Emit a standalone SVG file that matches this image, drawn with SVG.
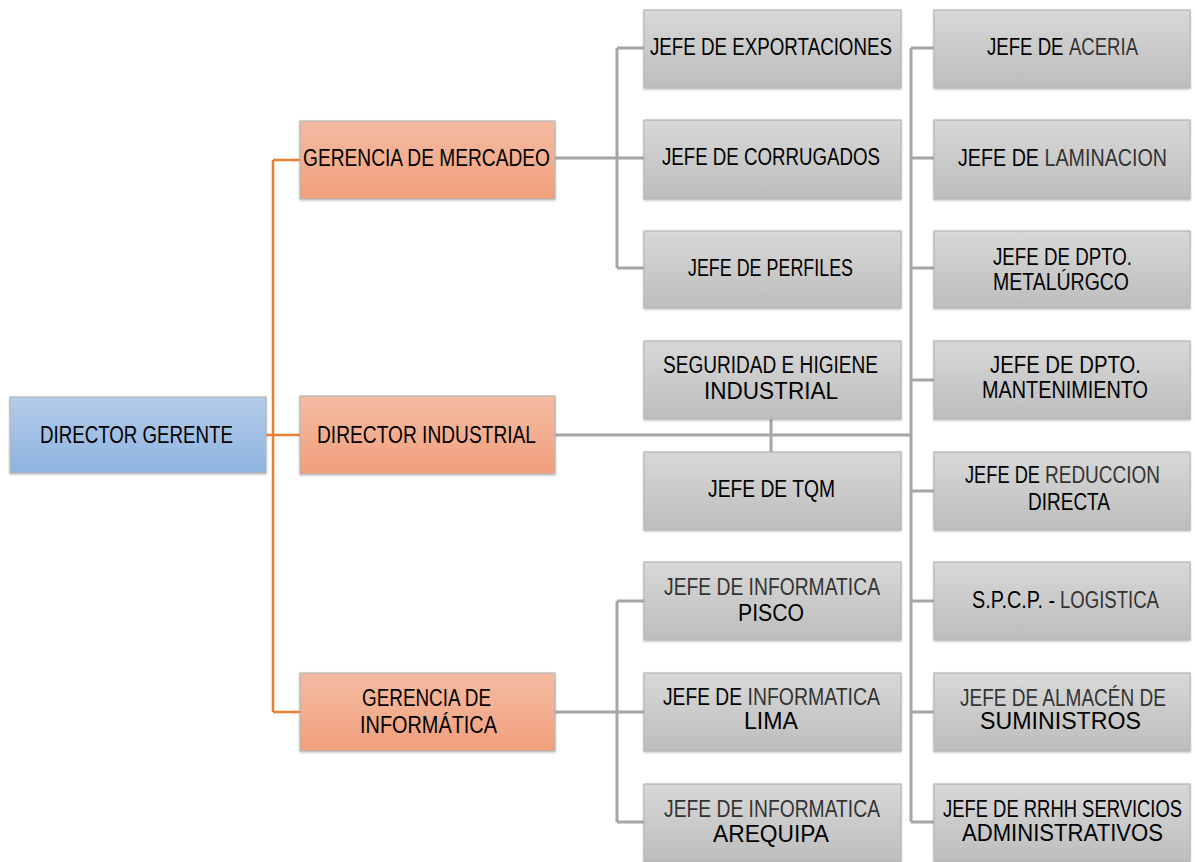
<svg xmlns="http://www.w3.org/2000/svg" width="1195" height="862" viewBox="0 0 1195 862">
<defs>
<linearGradient id="gBlue" x1="0" y1="0" x2="0" y2="1"><stop offset="0" stop-color="#b4cce9"/><stop offset="1" stop-color="#8db3e0"/></linearGradient>
<linearGradient id="gOrange" x1="0" y1="0" x2="0" y2="1"><stop offset="0" stop-color="#f4bca2"/><stop offset="1" stop-color="#f19f7c"/></linearGradient>
<linearGradient id="gGray" x1="0" y1="0" x2="0" y2="1"><stop offset="0" stop-color="#d8d8d8"/><stop offset="1" stop-color="#bdbdbd"/></linearGradient>
<filter id="sh" x="-5%" y="-10%" width="110%" height="125%"><feDropShadow dx="0" dy="1" stdDeviation="1" flood-color="#000" flood-opacity="0.25"/></filter>
</defs>
<style>
.box{stroke:#b5b5b5;stroke-width:1.2;filter:url(#sh)}
.blue{fill:url(#gBlue)}
.orange{fill:url(#gOrange)}
.gray{fill:url(#gGray)}
text{font-family:"Liberation Sans Narrow","Liberation Sans",Arial,sans-serif;font-size:23px;fill:#000}
.dim{fill:#333}
.cg{fill:none;stroke:#a6a6a6;stroke-width:3}
.co{fill:none;stroke:#ed7d31;stroke-width:2.5}
</style>
<rect width="1195" height="862" fill="#fff"/>
<g id="connectors">
<path class="co" d="M266 435H300M273 160V712M273 160H300M273 712H300"/>
<path class="cg" d="M555 158H644M617 48V268M617 48H644M617 268H644"/>
<path class="cg" d="M555 435H911M771 419V452"/>
<path class="cg" d="M911 48V822M911 48H934M911 158H934M911 268H934M911 380H934M911 491H934M911 601H934M911 712H934M911 822H934"/>
<path class="cg" d="M555 712H617M617 601V822M617 601H644M617 712H644M617 822H644"/>
</g>
<g id="n-director-gerente"><rect class="box blue" x="10" y="397" width="256" height="76"/><text x="40" y="443" textLength="193" lengthAdjust="spacingAndGlyphs">DIRECTOR GERENTE</text></g>
<g id="n-gerencia-mercadeo"><rect class="box orange" x="300" y="121" width="255" height="78"/><text x="303" y="166" textLength="247" lengthAdjust="spacingAndGlyphs">GERENCIA DE MERCADEO</text></g>
<g id="n-director-industrial"><rect class="box orange" x="300" y="396" width="255" height="78"/><text x="317" y="443" textLength="219" lengthAdjust="spacingAndGlyphs">DIRECTOR INDUSTRIAL</text></g>
<g id="n-gerencia-informatica"><rect class="box orange" x="300" y="673" width="255" height="78"/><text x="362" y="706" textLength="129" lengthAdjust="spacingAndGlyphs">GERENCIA DE</text><text x="360" y="733" textLength="137" lengthAdjust="spacingAndGlyphs">INFORMÁTICA</text></g>
<g id="n-exportaciones"><rect class="box gray" x="644" y="10" width="257" height="78"/><text x="650" y="55" textLength="242" lengthAdjust="spacingAndGlyphs">JEFE DE EXPORTACIONES</text></g>
<g id="n-corrugados"><rect class="box gray" x="644" y="120" width="257" height="79"/><text x="662" y="165" textLength="218" lengthAdjust="spacingAndGlyphs">JEFE DE CORRUGADOS</text></g>
<g id="n-perfiles"><rect class="box gray" x="644" y="231" width="257" height="77"/><text x="688" y="276" textLength="165" lengthAdjust="spacingAndGlyphs">JEFE DE PERFILES</text></g>
<g id="n-seguridad"><rect class="box gray" x="644" y="341" width="257" height="78"/><text x="663" y="373" textLength="215" lengthAdjust="spacingAndGlyphs">SEGURIDAD E HIGIENE</text><text x="704" y="399" textLength="134" lengthAdjust="spacingAndGlyphs">INDUSTRIAL</text></g>
<g id="n-tqm"><rect class="box gray" x="644" y="452" width="257" height="78"/><text x="708" y="497" textLength="127" lengthAdjust="spacingAndGlyphs">JEFE DE TQM</text></g>
<g id="n-info-pisco"><rect class="box gray" x="644" y="562" width="257" height="78"/><text class="dim" x="664" y="595" textLength="216" lengthAdjust="spacingAndGlyphs">JEFE DE INFORMATICA</text><text x="738" y="621" textLength="66" lengthAdjust="spacingAndGlyphs">PISCO</text></g>
<g id="n-info-lima"><rect class="box gray" x="644" y="673" width="257" height="78"/><text transform="translate(663 705) scale(0.8 1)" x="0" y="0" textLength="98.75" lengthAdjust="spacingAndGlyphs">JEFE DE</text><text class="dim" x="747.5" y="705" textLength="132.5" lengthAdjust="spacingAndGlyphs">INFORMATICA</text><text x="744" y="729" textLength="54" lengthAdjust="spacingAndGlyphs">LIMA</text></g>
<g id="n-info-arequipa"><rect class="box gray" x="644" y="784" width="257" height="78"/><text class="dim" x="664" y="817" textLength="216" lengthAdjust="spacingAndGlyphs">JEFE DE INFORMATICA</text><text x="713" y="842" textLength="116" lengthAdjust="spacingAndGlyphs">AREQUIPA</text></g>
<g id="n-aceria"><rect class="box gray" x="934" y="10" width="256" height="78"/><text transform="translate(987 55) scale(0.8 1)" x="0" y="0" textLength="95.6" lengthAdjust="spacingAndGlyphs">JEFE DE</text><text class="dim" x="1069" y="55" textLength="69" lengthAdjust="spacingAndGlyphs">ACERIA</text></g>
<g id="n-laminacion"><rect class="box gray" x="934" y="120" width="256" height="79"/><text x="958" y="166" textLength="81" lengthAdjust="spacingAndGlyphs">JEFE DE</text><text class="dim" x="1044.5" y="166" textLength="122.5" lengthAdjust="spacingAndGlyphs">LAMINACION</text></g>
<g id="n-metalurgico"><rect class="box gray" x="934" y="231" width="256" height="77"/><text x="993" y="265" textLength="139" lengthAdjust="spacingAndGlyphs">JEFE DE DPTO.</text><text x="993" y="290" textLength="136" lengthAdjust="spacingAndGlyphs">METALÚRGCO</text></g>
<g id="n-mantenimiento"><rect class="box gray" x="934" y="341" width="256" height="78"/><text x="990" y="373" textLength="151" lengthAdjust="spacingAndGlyphs">JEFE DE DPTO.</text><text x="982" y="398" textLength="166" lengthAdjust="spacingAndGlyphs">MANTENIMIENTO</text></g>
<g id="n-reduccion"><rect class="box gray" x="934" y="452" width="256" height="78"/><text transform="translate(965 483) scale(0.8 1)" x="0" y="0" textLength="93.75" lengthAdjust="spacingAndGlyphs">JEFE DE</text><text class="dim" x="1045" y="483" textLength="115" lengthAdjust="spacingAndGlyphs">REDUCCION</text><text x="1028" y="510" textLength="82" lengthAdjust="spacingAndGlyphs">DIRECTA</text></g>
<g id="n-logistica"><rect class="box gray" x="934" y="562" width="256" height="78"/><text x="972" y="608" textLength="83" lengthAdjust="spacingAndGlyphs">S.P.C.P. -</text><text class="dim" x="1060" y="608" textLength="99" lengthAdjust="spacingAndGlyphs">LOGISTICA</text></g>
<g id="n-almacen"><rect class="box gray" x="934" y="673" width="256" height="78"/><text class="dim" transform="translate(960 706) scale(0.83 1)" x="0" y="0" textLength="248" lengthAdjust="spacingAndGlyphs">JEFE DE ALMACÉN DE</text><text x="980" y="729" textLength="161" lengthAdjust="spacingAndGlyphs">SUMINISTROS</text></g>
<g id="n-rrhh"><rect class="box gray" x="934" y="784" width="256" height="78"/><text transform="translate(943 817) scale(0.83 1)" x="0" y="0" textLength="288" lengthAdjust="spacingAndGlyphs">JEFE DE RRHH SERVICIOS</text><text x="962" y="841" textLength="201" lengthAdjust="spacingAndGlyphs">ADMINISTRATIVOS</text></g>
</svg>
